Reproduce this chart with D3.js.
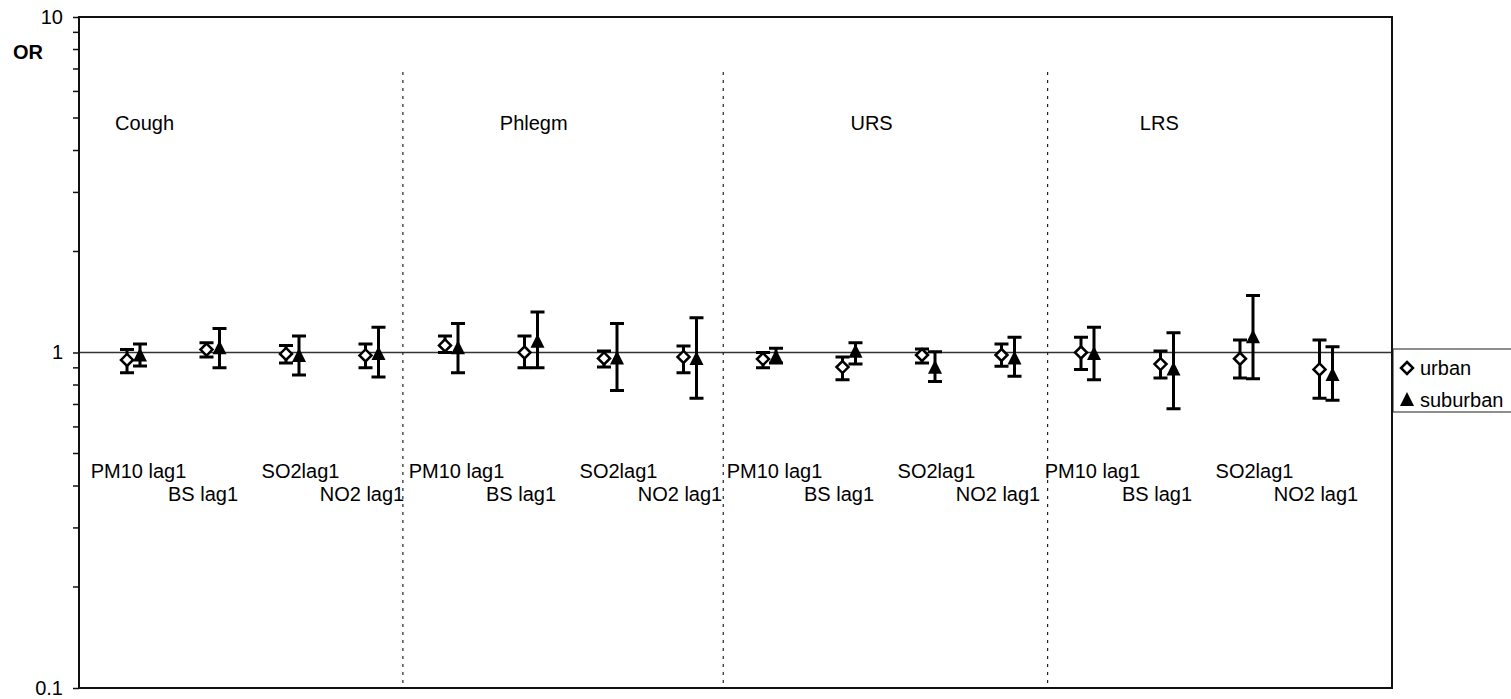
<!DOCTYPE html>
<html>
<head>
<meta charset="utf-8">
<script src="https://cdn.jsdelivr.net/npm/d3@7"></script>
<style>
  body { margin: 0; background: #fff; }
  svg { display: block; font-family: "Liberation Sans", Arial, sans-serif; }
</style>
</head>
<body>
<svg width="1511" height="699"></svg>
<script>
// symptoms (groups) and pollutant lags within each group
const symptoms = ["Cough", "Phlegm", "URS", "LRS"];
const pollutants = ["PM10 lag1", "BS lag1", "SO2lag1", "NO2 lag1"];

// odds ratios, 16 = 4 symptoms x 4 pollutants
const urbanOR = [0.95, 1.02, 0.99, 0.98, 1.05, 1.0, 0.96, 0.97, 0.956, 0.905, 0.983, 0.983, 1.0, 0.924, 0.958, 0.89];
const urbanLo = [0.87, 0.97, 0.93, 0.9, 1.0, 0.9, 0.905, 0.87, 0.9, 0.83, 0.93, 0.91, 0.89, 0.84, 0.84, 0.73];
const urbanHi = [1.02, 1.07, 1.05, 1.06, 1.12, 1.12, 1.01, 1.045, 1.0, 0.97, 1.024, 1.06, 1.11, 1.01, 1.09, 1.09];
const suburbanOR = [0.98, 1.03, 0.977, 0.99, 1.03, 1.077, 0.96, 0.956, 0.97, 1.006, 0.9, 0.96, 0.99, 0.89, 1.11, 0.857];
const suburbanLo = [0.912, 0.9, 0.857, 0.845, 0.87, 0.9, 0.77, 0.73, 0.93, 0.924, 0.82, 0.85, 0.83, 0.68, 0.835, 0.72];
const suburbanHi = [1.06, 1.18, 1.12, 1.19, 1.22, 1.32, 1.22, 1.27, 1.03, 1.07, 1.005, 1.11, 1.19, 1.145, 1.48, 1.04];

const yTicks = [0.1, 1, 10];
const yMinor = [0.2, 0.3, 0.4, 0.5, 0.6, 0.7, 0.8, 0.9, 2, 3, 4, 5, 6, 7, 8, 9];

const svg = d3.select("svg");
const plot = { left: 79, right: 1392, top: 17, bottom: 688 };

const x = d3.scaleLinear().domain([0, 15]).range([127, 1319.5]);
const subOffset = 13;
const y = d3.scaleLog().domain([0.1, 10]).range([plot.bottom, plot.top]);

const rows = d3.range(16).map((i) => ({
  i,
  group: Math.floor(i / 4),
  pollutant: pollutants[i % 4],
  urban: { or: urbanOR[i], lo: urbanLo[i], hi: urbanHi[i] },
  suburban: { or: suburbanOR[i], lo: suburbanLo[i], hi: suburbanHi[i] }
}));

// reference line at OR = 1 (runs into the legend box)
svg.append("line")
  .attr("x1", plot.left).attr("x2", 1395)
  .attr("y1", y(1)).attr("y2", y(1))
  .attr("stroke", "#333").attr("stroke-width", 1.5);

// dashed dividers between symptoms (hand placed in the original)
svg.append("g")
  .selectAll("line")
  .data([3.47, 7.5, 11.58])
  .join("line")
  .attr("x1", (d) => x(d)).attr("x2", (d) => x(d))
  .attr("y1", 72).attr("y2", plot.bottom)
  .attr("stroke", "#222").attr("stroke-width", 1.2)
  .attr("stroke-dasharray", "3,5");

// frame
svg.append("rect")
  .attr("x", plot.left).attr("y", plot.top)
  .attr("width", plot.right - plot.left).attr("height", plot.bottom - plot.top)
  .attr("fill", "none").attr("stroke", "#111").attr("stroke-width", 2);

// y axis
const yAxis = svg.append("g").attr("transform", `translate(${plot.left},0)`);
yAxis.call(d3.axisLeft(y).tickValues(yTicks).tickSize(6).tickPadding(10)
    .tickFormat((d) => (d === 0.1 ? "0.1" : d3.format("d")(d))))
  .call((g) => g.select(".domain").remove())
  .call((g) => g.selectAll(".tick line").attr("stroke", "#111").attr("stroke-width", 1.5))
  .call((g) => g.selectAll(".tick text").attr("font-size", 20).attr("fill", "#000")
    .attr("font-family", "Liberation Sans, Arial, sans-serif"));
yAxis.selectAll(".minor")
  .data(yMinor)
  .join("line")
  .attr("class", "minor")
  .attr("x1", -6).attr("x2", 0)
  .attr("y1", (d) => y(d)).attr("y2", (d) => y(d))
  .attr("stroke", "#111").attr("stroke-width", 1.5);

svg.append("text")
  .attr("x", 13).attr("y", 59)
  .attr("font-size", 20).attr("font-weight", "bold")
  .text("OR");

// symptom titles
const titleX = [-0.15, 4.69, 9.1, 12.74];
svg.append("g")
  .selectAll("text")
  .data(symptoms)
  .join("text")
  .attr("x", (d, i) => x(titleX[i]))
  .attr("y", 130)
  .attr("font-size", 20)
  .text((d) => d);

// pollutant labels, staggered on two rows
const labelShift = [5, -10, 8, -10];
svg.append("g")
  .selectAll("text")
  .data(rows)
  .join("text")
  .attr("x", (d) => x(d.i) + subOffset / 2 + labelShift[d.i % 4])
  .attr("y", (d) => (d.i % 2 === 0 ? 478 : 501))
  .attr("text-anchor", "middle")
  .attr("font-size", 20)
  .text((d) => d.pollutant);

// error bars + markers
const cap = 7;
const drawSeries = (key, dx, marker) => {
  const g = svg.append("g").attr("class", key);
  const bars = g.selectAll("g")
    .data(rows)
    .join("g")
    .attr("transform", (d) => `translate(${x(d.i) + dx},0)`);
  bars.append("path")
    .attr("d", (d) => `M0,${y(d[key].lo)}V${y(d[key].hi)}` +
      `M${-cap},${y(d[key].lo)}H${cap}M${-cap},${y(d[key].hi)}H${cap}`)
    .attr("fill", "none").attr("stroke", "#000").attr("stroke-width", 3);
  marker(bars.append("path").attr("transform", (d) => `translate(0,${y(d[key].or)})`));
};

const diamond = (sel) => sel
  .attr("d", "M0,-6L6,0L0,6L-6,0Z")
  .attr("fill", "#fff").attr("stroke", "#000").attr("stroke-width", 2.5);
const triangle = (sel) => sel
  .attr("d", "M0,-8L7,6H-7Z")
  .attr("fill", "#000");

drawSeries("urban", 0, diamond);
drawSeries("suburban", subOffset, triangle);

// legend
const legend = svg.append("g");
legend.append("rect")
  .attr("x", 1393).attr("y", 349).attr("width", 130).attr("height", 63)
  .attr("fill", "#fff").attr("stroke", "#444").attr("stroke-width", 1.2);
legend.append("line")
  .attr("x1", plot.right).attr("x2", plot.right).attr("y1", 349).attr("y2", 412)
  .attr("stroke", "#111").attr("stroke-width", 2);
const legendItems = [
  { label: "urban", marker: diamond },
  { label: "suburban", marker: triangle }
];
legendItems.forEach((d, i) => {
  const ly = 368 + i * 32;
  d.marker(legend.append("path").attr("transform", `translate(1407,${ly})`)
    .datum(d));
  legend.append("text")
    .attr("x", 1420).attr("y", ly + 7)
    .attr("font-size", 20)
    .text(d.label);
});
</script>
</body>
</html>
